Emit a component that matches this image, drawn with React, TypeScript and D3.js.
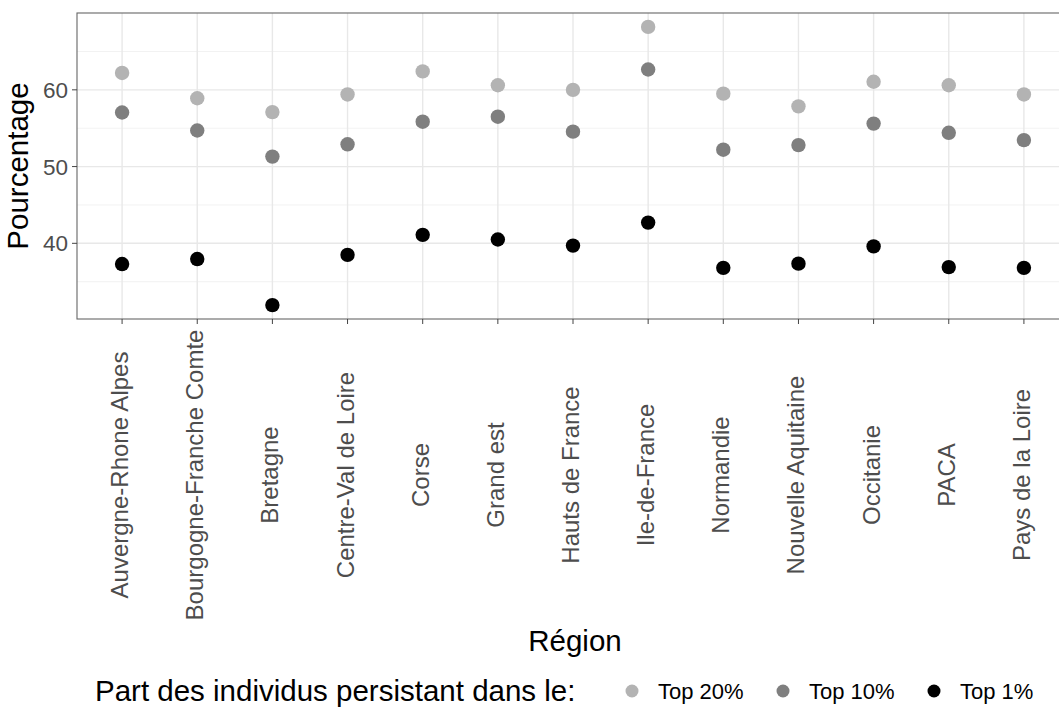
import React from 'react';
import * as d3 from 'd3';

const width = 1059;
const height = 708;
const margin = { top: 13, left: 77, right: -10, bottom: 389 };

const regions = [
  'Auvergne-Rhone Alpes', 'Bourgogne-Franche Comte', 'Bretagne', 'Centre-Val de Loire',
  'Corse', 'Grand est', 'Hauts de France', 'Ile-de-France', 'Normandie',
  'Nouvelle Aquitaine', 'Occitanie', 'PACA', 'Pays de la Loire',
];
const top20 = [62.2, 58.9, 57.1, 59.4, 62.4, 60.6, 60.0, 68.2, 59.5, 57.85, 61.05, 60.6, 59.4];
const top10 = [57.05, 54.7, 51.3, 52.9, 55.85, 56.5, 54.55, 62.65, 52.2, 52.8, 55.6, 54.4, 53.45];
const top1 = [37.3, 37.95, 31.95, 38.5, 41.1, 40.5, 39.7, 42.7, 36.8, 37.35, 39.6, 36.9, 36.8];
const yTicks = [40, 50, 60];
const yMinor = [35, 45, 55, 65];

const series = [
  { name: 'Top 20%', values: top20, color: '#b3b3b3' },
  { name: 'Top 10%', values: top10, color: '#7f7f7f' },
  { name: 'Top 1%', values: top1, color: '#000000' },
];

const font = '"Liberation Sans", Arial, sans-serif';

export default function App() {
  const x0 = margin.left;
  const x1 = width - margin.right;
  const y0 = margin.top;
  const y1 = height - margin.bottom;

  const x = d3.scalePoint<string>().domain(regions).range([x0, x1]).padding(0.6);

  // ggplot-style 5% expansion of the data range
  const all = [...top20, ...top10, ...top1];
  const [lo, hi] = d3.extent(all) as [number, number];
  const pad = (hi - lo) * 0.05;
  const y = d3.scaleLinear().domain([lo - pad, hi + pad]).range([y1, y0]);

  const legendKeys = [632, 783, 934];

  return (
    <svg width={width} height={height} style={{ position: 'absolute', left: 0, top: 0, background: '#fff' }}
      fontFamily={font}>
      <defs>
        <clipPath id="panel-clip">
          <rect x={x0} y={y0} width={x1 - x0} height={y1 - y0} />
        </clipPath>
      </defs>
      <rect x={0} y={0} width={width} height={height} fill="#fff" />

      <g clipPath="url(#panel-clip)">
        {yMinor.map(t => (
          <line key={'mn' + t} x1={x0} x2={x1} y1={y(t)} y2={y(t)} stroke="#f0f0f0" strokeWidth={0.9} />
        ))}
        {yTicks.map(t => (
          <line key={'mj' + t} x1={x0} x2={x1} y1={y(t)} y2={y(t)} stroke="#e8e8e8" strokeWidth={1.4} />
        ))}
        {regions.map(r => (
          <line key={'vx' + r} x1={x(r)} x2={x(r)} y1={y0} y2={y1} stroke="#e8e8e8" strokeWidth={1.4} />
        ))}
        {series.map(s => (
          <g key={s.name} fill={s.color}>
            {s.values.map((v, i) => (
              <circle key={i} cx={x(regions[i])} cy={y(v)} r={7.2} />
            ))}
          </g>
        ))}
      </g>
      <rect x={x0} y={y0} width={x1 - x0} height={y1 - y0} fill="none" stroke="#666" strokeWidth={1.1} />

      {/* y axis */}
      {yTicks.map(t => (
        <g key={'yt' + t}>
          <line x1={x0 - 5} x2={x0} y1={y(t)} y2={y(t)} stroke="#444" strokeWidth={1} />
          <text x={x0 - 9} y={y(t)} dy="0.36em" textAnchor="end" fontSize={22.5} fill="#4d4d4d">{t}</text>
        </g>
      ))}
      <text transform={`translate(28,${(y0 + y1) / 2}) rotate(-90)`} textAnchor="middle" fontSize={29.5} fill="#000">
        Pourcentage
      </text>

      {/* x axis */}
      {regions.map(r => (
        <g key={'xt' + r}>
          <line x1={x(r)} x2={x(r)} y1={y1} y2={y1 + 5} stroke="#444" strokeWidth={1} />
          <text transform={`translate(${(x(r) as number) + 6},475) rotate(-90)`} textAnchor="middle"
            fontSize={24} fill="#4d4d4d">{r}</text>
        </g>
      ))}
      <text x={575} y={651} textAnchor="middle" fontSize={29.5} fill="#000">Région</text>

      {/* legend */}
      <text x={95} y={701} fontSize={29.5} fill="#000">Part des individus persistant dans le:</text>
      {series.map((s, i) => (
        <g key={'lg' + s.name}>
          <circle cx={legendKeys[i]} cy={691} r={6.5} fill={s.color} />
          <text x={legendKeys[i] + 26} y={698.5} fontSize={22} fill="#000">{s.name}</text>
        </g>
      ))}
    </svg>
  );
}
